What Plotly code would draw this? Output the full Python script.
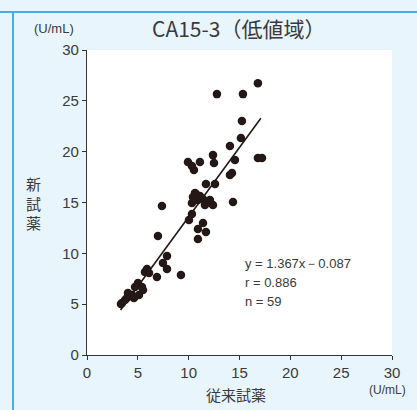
import plotly.graph_objects as go

# Data (conventional reagent x, new reagent y), U/mL
conv_x = [12.78, 15.34, 16.81, 15.24, 15.14, 14.06, 12.39, 12.49, 9.93, 11.11,
          10.52, 10.32, 14.55, 16.81, 17.21, 14.26, 14.06, 11.70, 12.59, 10.62,
          10.42, 10.91, 11.41, 11.90, 12.39, 11.60, 10.32, 14.36, 7.37, 10.32,
          10.03, 11.41, 10.91, 11.70, 10.91, 6.98, 7.87, 7.47, 7.87, 5.90,
          5.70, 6.10, 6.88, 9.24, 5.01, 5.41, 5.51, 4.72, 5.11, 4.42,
          4.03, 3.93, 3.44, 3.74, 3.34, 11.11, 12.09, 4.62, 10.72]
new_y = [25.66, 25.66, 26.74, 23.01, 21.34, 20.55, 19.66, 18.88, 18.98, 18.98,
         18.19, 18.58, 19.17, 19.37, 19.37, 17.90, 17.70, 16.81, 16.81, 15.93,
         15.54, 15.24, 15.34, 15.04, 14.75, 14.75, 14.95, 15.04, 14.65, 13.86,
         13.27, 12.98, 12.39, 12.10, 11.41, 11.70, 9.73, 9.05, 8.46, 8.46,
         8.16, 8.06, 7.67, 7.87, 7.08, 6.69, 6.39, 6.69, 5.90, 5.90,
         6.10, 5.60, 5.11, 5.41, 5.01, 15.63, 15.24, 5.60, 15.83]

slope = 1.367
intercept = -0.087
line_x = [3.3, 17.1]
line_y = [slope * v + intercept for v in line_x]

tick_vals = [0, 5, 10, 15, 20, 25, 30]
tick_text = ["0", "5", "10", "15", "20", "25", "30"]

title_text = "CA15-3（低値域）"
x_title = "従来試薬"
y_title = "新<br>試<br>薬"
unit = "(U/mL)"
stats = ["y = 1.367x－0.087", "r = 0.886", "n = 59"]

TXT = "#3a3a3a"
DOT = "#231815"
FONT = "Liberation Sans, Arial, sans-serif"
JP = "Noto Sans CJK JP"

fig = go.Figure()
fig.add_trace(go.Scatter(x=line_x, y=line_y, mode="lines",
                         line=dict(color=DOT, width=1.6), hoverinfo="skip"))
fig.add_trace(go.Scatter(x=conv_x, y=new_y, mode="markers",
                         marker=dict(color=DOT, size=8.5, line=dict(width=0))))

fig.update_layout(
    width=417, height=410,
    margin=dict(l=87, r=25, t=50, b=55),
    paper_bgcolor="#e9f5fd",
    plot_bgcolor="#ffffff",
    showlegend=False,
    font=dict(family=FONT, color=TXT, size=14),
)
axis_common = dict(
    range=[0, 30], tickvals=tick_vals, ticktext=tick_text,
    showgrid=False, zeroline=False, showline=True, linecolor="#333333",
    linewidth=1.2, ticks="outside", ticklen=4, tickcolor="#333333",
    tickfont=dict(family=FONT, size=15, color=TXT), fixedrange=True,
)
fig.update_xaxes(**axis_common)
fig.update_yaxes(**axis_common)

# Decorative border lines (top and left), blue
fig.add_shape(type="line", xref="paper", yref="paper", x0=-87/305, x1=(417-87)/305,
              y0=1 + 38/305, y1=1 + 38/305, line=dict(color="#46aee6", width=2))
fig.add_shape(type="line", xref="paper", yref="paper", x0=-74/305, x1=-74/305,
              y0=-55/305, y1=1 + 38/305, line=dict(color="#46aee6", width=2))

fig.add_annotation(text=title_text, xref="paper", yref="paper", x=(238-87)/305,
                   y=1 + 22/305, showarrow=False, xanchor="center", yanchor="middle",
                   font=dict(family=JP, size=21, color=TXT))
fig.add_annotation(text=unit, xref="paper", yref="paper", x=(54-87)/305,
                   y=1 + 22/305, showarrow=False, xanchor="center", yanchor="middle",
                   font=dict(family=FONT, size=13, color=TXT))
fig.add_annotation(text=unit, xref="paper", yref="paper", x=(387-87)/305,
                   y=-35/305, showarrow=False, xanchor="center", yanchor="middle",
                   font=dict(family=FONT, size=12, color=TXT))
fig.add_annotation(text=x_title, xref="paper", yref="paper", x=(236-87)/305,
                   y=-39/305, showarrow=False, xanchor="center", yanchor="middle",
                   font=dict(family=JP, size=15, color=TXT))
fig.add_annotation(text=y_title, xref="paper", yref="paper", x=(33-87)/305,
                   y=(355-203)/305, showarrow=False, xanchor="center", yanchor="middle",
                   font=dict(family=JP, size=15, color=TXT))
for i, s in enumerate(stats):
    fig.add_annotation(text=s, xref="paper", yref="paper", x=(243-87)/305,
                       y=(355-(263 + 19*i))/305, showarrow=False, xanchor="left",
                       yanchor="middle", font=dict(family=FONT, size=13, color=TXT))

fig.write_html("out.html")
